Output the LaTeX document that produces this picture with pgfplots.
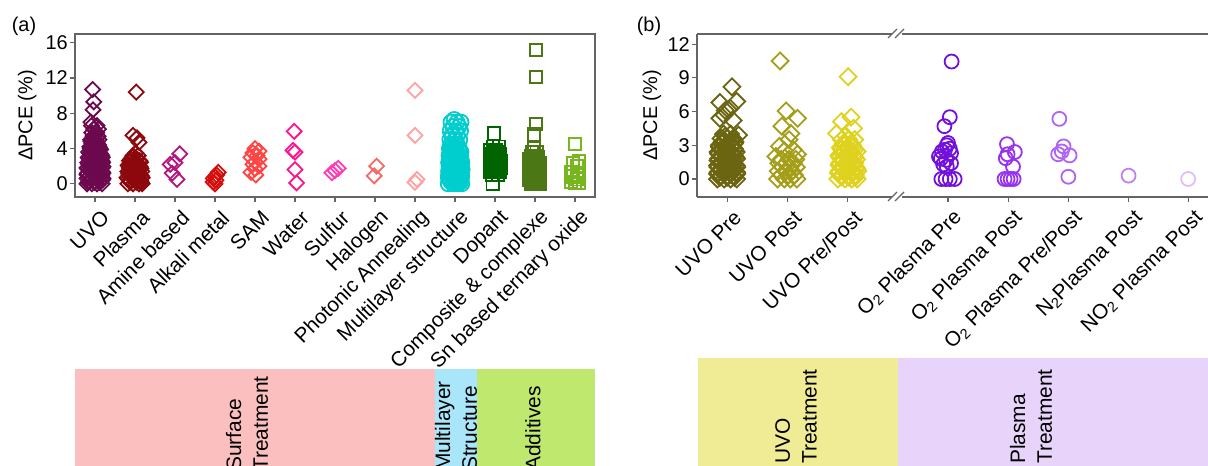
\documentclass[border=0pt]{standalone}
\usepackage{fontspec}
\setmainfont{Liberation Sans}
\usepackage{pgfplots}
\pgfplotsset{compat=1.18}
\definecolor{axgray}{RGB}{100,100,100}
\definecolor{cUVOa}{RGB}{108,8,78}
\definecolor{cPla}{RGB}{140,8,12}
\definecolor{cAmi}{RGB}{180,20,125}
\definecolor{cAlk}{RGB}{212,12,12}
\definecolor{cSAM}{RGB}{255,68,68}
\definecolor{cWat}{RGB}{255,20,140}
\definecolor{cSul}{RGB}{255,60,180}
\definecolor{cHal}{RGB}{245,105,105}
\definecolor{cPho}{RGB}{255,162,162}
\definecolor{cMul}{RGB}{0,205,205}
\definecolor{cDop}{RGB}{0,100,0}
\definecolor{cCom}{RGB}{75,120,20}
\definecolor{cSn}{RGB}{120,182,32}
\definecolor{cUpre}{RGB}{107,100,17}
\definecolor{cUpost}{RGB}{165,158,25}
\definecolor{cUpp}{RGB}{222,210,30}
\definecolor{cOpre}{RGB}{115,15,220}
\definecolor{cOpost}{RGB}{150,50,240}
\definecolor{cOpp}{RGB}{175,100,245}
\definecolor{cN}{RGB}{190,130,245}
\definecolor{cNO}{RGB}{225,190,250}
\definecolor{bxPink}{RGB}{251,191,191}
\definecolor{bxBlue}{RGB}{170,230,250}
\definecolor{bxGreen}{RGB}{190,232,110}
\definecolor{bxYellow}{RGB}{240,236,150}
\definecolor{bxLav}{RGB}{232,212,250}
\newcommand{\tfont}{\fontsize{20}{23}\selectfont}
\newcommand{\xfont}{\fontsize{20.8}{24}\selectfont}
\newcommand{\bfontx}{\fontsize{21}{27}\selectfont}
\pgfplotsset{
  base/.style={
    scale only axis, height=163bp,
    axis line style={axgray, line width=1.1bp},
    every tick/.style={axgray, line width=1.1bp},
    tick align=outside, major tick length=5bp,
    xtick pos=bottom, ytick pos=left,
    /pgf/number format/assume math mode=true,
    tick label style={font=\tfont, black},
    y tick label style={inner sep=2bp},
    x tick label style={font=\xfont, xshift=12bp, yshift=-11bp, rotate=45, anchor=east, inner sep=2bp},
  },
  diaA/.style={only marks, mark=square, mark size=5.3, mark options={rotate=45, line width=1.8bp, solid}},
  diaB/.style={only marks, mark=square, mark size=6, mark options={rotate=45, line width=1.8bp, solid}},
  sq/.style={only marks, mark=square, mark size=6.2, mark options={line width=1.8bp, solid}},
  circA/.style={only marks, mark=o, mark size=7.5, mark options={line width=1.8bp, solid}},
  circB/.style={only marks, mark=o, mark size=7, mark options={line width=1.8bp, solid}},
}
\begin{document}
\begin{tikzpicture}[x=1bp,y=1bp]
\useasboundingbox (0,0) rectangle (1208,466);
% category boxes
\fill[bxPink] (75,-10) rectangle (435,97);
\fill[bxBlue] (435,-10) rectangle (477,97);
\fill[bxGreen] (477,-10) rectangle (595,97);
\fill[bxYellow] (698,-10) rectangle (898,108);
\fill[bxLav] (898,-10) rectangle (1208,108);
\node[rotate=90, anchor=west, align=left, inner sep=0, font=\bfontx] at (247,-5) {Surface\\Treatment};
\node[rotate=90, anchor=west, align=left, inner sep=0, font=\bfontx] at (456,-5) {Multilayer\\Structure};
\node[rotate=90, anchor=west, align=left, inner sep=0, font=\bfontx] at (533,-5) {Additives};
\node[rotate=90, anchor=west, align=left, inner sep=0, font=\bfontx] at (796,2) {UVO\\Treatment};
\node[rotate=90, anchor=west, align=left, inner sep=0, font=\bfontx] at (1031,2) {Plasma\\Treatment};
\node[font=\fontsize{20}{24}\selectfont] at (24,440) {(a)};
\node[font=\fontsize{20}{24}\selectfont] at (649,440) {(b)};
% ---------------- panel (a)
\begin{axis}[base, at={(75bp,269bp)}, anchor=south west, width=520bp,
  xmin=-0.5, xmax=12.5, ymin=-1.5, ymax=17,
  ytick={0,4,8,12,16},
  xtick={0,...,12},
  xticklabels={UVO,Plasma,Amine based,Alkali metal,SAM,Water,Sulfur,Halogen,Photonic Annealing,Multilayer structure,Dopant,Composite \& complexe,Sn based ternary oxide},
  every axis y label/.style={at={(axis description cs:-0.092,0.5)}, rotate=90, anchor=center, font=\tfont},
  ylabel={ΔPCE (\%)},
]
\addplot[diaA, color=cUVOa] coordinates {
(-0.2,0) (-0.08,0) (0.05,0) (0.18,0)
(-0.17,0.15) (-0.02,0.15) (0.12,0.15)
(-0.15,0.3) (0,0.3) (0.14,0.3)
(-0.1,0.45) (0.07,0.45) (0.19,0.45)
(-0.2,0.6) (-0.05,0.6) (0.1,0.6) (0.2,0.6)
(-0.16,0.75) (0.0,0.75) (0.15,0.75)
(-0.12,0.9) (0.03,0.9) (0.17,0.9)
(-0.2,1.05) (-0.04,1.05) (0.11,1.05)
(-0.19,1.2) (-0.06,1.2) (0.08,1.2) (0.2,1.2)
(-0.1,1.35) (0.04,1.35) (0.18,1.35)
(-0.14,1.5) (0,1.5) (0.15,1.5)
(-0.17,1.65) (-0.03,1.65) (0.1,1.65)
(-0.2,1.8) (-0.07,1.8) (0.07,1.8) (0.18,1.8)
(-0.1,1.95) (0.05,1.95) (0.2,1.95)
(-0.13,2.1) (0.02,2.1) (0.16,2.1)
(-0.16,2.25) (-0.02,2.25) (0.13,2.25)
(-0.18,2.4) (-0.05,2.4) (0.1,2.4) (0.19,2.4)
(-0.08,2.55) (0.07,2.55) (0.18,2.55)
(-0.12,2.7) (0.03,2.7) (0.15,2.7)
(-0.15,2.85) (0.0,2.85) (0.12,2.85)
(-0.17,3.0) (-0.04,3.0) (0.09,3.0) (0.18,3.0)
(-0.07,3.15) (0.08,3.15) (0.17,3.15)
(-0.1,3.3) (0.04,3.3) (0.15,3.3)
(-0.13,3.45) (0.01,3.45) (0.13,3.45)
(-0.16,3.6) (-0.03,3.6) (0.1,3.6)
(-0.06,3.75) (0.08,3.75)
(-0.1,3.9) (0.05,3.9) (0.14,3.9)
(-0.12,4.05) (0.03,4.05) (0.12,4.05)
(-0.13,4.2) (0,4.2) (0.1,4.2)
(-0.04,4.4) (0.09,4.4)
(-0.08,4.6) (0.06,4.6)
(-0.1,4.8) (0.04,4.8)
(-0.11,5.0) (0.02,5.0) (0.1,5.0)
(-0.05,5.4) (0.08,5.4)
(-0.08,5.8) (0.04,5.8)
(-0.03,6.2) (0.09,6.2)
(-0.09,6.6) (0.05,6.6)
(-0.1,7.0) (-0.05,8.4) (-0.03,9.3) (-0.06,10.7)
};
\addplot[diaA, color=cPla] coordinates {
(0.82,0) (0.95,0) (1.1,0) (1.18,0)
(0.88,0.18) (1.03,0.18) (1.16,0.18)
(0.86,0.35) (1.0,0.35) (1.14,0.35)
(0.83,0.53) (0.97,0.53) (1.1,0.53)
(0.8,0.7) (0.93,0.7) (1.07,0.7) (1.18,0.7)
(0.89,0.88) (1.04,0.88) (1.16,0.88)
(0.85,1.05) (1.0,1.05) (1.13,1.05)
(0.84,1.23) (0.97,1.23) (1.1,1.23)
(0.82,1.4) (0.95,1.4) (1.08,1.4) (1.17,1.4)
(0.9,1.58) (1.05,1.58)
(0.87,1.75) (1.02,1.75) (1.15,1.75)
(0.85,1.93) (0.99,1.93) (1.13,1.93)
(0.83,2.1) (0.97,2.1) (1.1,2.1)
(0.92,2.28) (1.07,2.28)
(0.88,2.45) (1.03,2.45) (1.14,2.45)
(0.86,2.63) (1.0,2.63) (1.12,2.63)
(0.9,2.8) (1.05,2.8)
(0.93,3.0) (0.95,3.2) (1.08,3.2) (1.02,3.5)
(1.1,4.7) (1.05,5.2) (0.95,5.5) (1.03,10.4)
};
\addplot[diaA, color=cAmi] coordinates {
(2.12,3.4) (2.0,2.4) (1.88,2.2) (1.93,1.2) (2.05,0.5)
};
\addplot[diaA, color=cAlk] coordinates {
(3.08,1.3) (3.04,1.0) (3.0,0.8) (2.96,0.6) (3.02,0.4) (2.95,0.2) (3.0,0.0)
};
\addplot[diaA, color=cSAM] coordinates {
(4.0,4.0) (4.1,3.7) (3.95,3.5) (4.05,3.2) (3.9,3.0) (4.1,2.8) (4.0,2.5)
(3.95,2.2) (4.1,2.0) (4.0,1.7) (3.9,1.3) (4.02,1.0)
};
\addplot[diaA, color=cWat] coordinates {
(4.98,5.95) (4.95,3.8) (5.0,3.6) (5.0,1.6) (5.04,0.1)
};
\addplot[diaA, color=cSul] coordinates {
(5.92,1.25) (6.0,1.5) (6.08,1.75)
};
\addplot[diaA, color=cHal] coordinates {
(7.04,2.0) (6.98,0.9)
};
\addplot[diaA, color=cPho] coordinates {
(8.0,10.6) (8.0,5.5) (8.05,0.5) (8.0,0.15)
};
\addplot[circA, color=cMul] coordinates {
(8.83,0) (8.95,0) (9.07,0) (9.17,0)
(8.9,0.2) (9.03,0.2) (9.14,0.2)
(8.88,0.4) (9.0,0.4) (9.12,0.4)
(8.85,0.6) (8.98,0.6) (9.11,0.6)
(8.83,0.8) (8.95,0.8) (9.08,0.8) (9.17,0.8)
(8.91,1.0) (9.04,1.0) (9.16,1.0)
(8.87,1.2) (9.0,1.2) (9.13,1.2)
(8.84,1.4) (8.96,1.4) (9.08,1.4)
(8.85,1.6) (8.97,1.6) (9.1,1.6) (9.18,1.6)
(8.92,1.8) (9.05,1.8) (9.16,1.8)
(8.88,2.0) (9.02,2.0) (9.14,2.0)
(8.86,2.2) (8.99,2.2) (9.12,2.2)
(8.84,2.4) (8.96,2.4) (9.09,2.4) (9.17,2.4)
(8.92,2.6) (9.05,2.6) (9.16,2.6)
(8.87,2.8) (9.0,2.8) (9.13,2.8)
(8.88,3.0) (9.02,3.0) (9.14,3.0)
(8.85,3.2) (8.98,3.2) (9.1,3.2)
(8.94,3.4) (9.07,3.4)
(8.9,3.6) (9.03,3.6) (9.15,3.6)
(8.88,3.8) (9.0,3.8) (9.12,3.8)
(8.86,4.0) (8.98,4.0) (9.1,4.0)
(8.94,4.25) (9.08,4.25)
(8.9,4.5) (9.05,4.5)
(8.87,5.0) (9.0,5.0) (9.12,5.0)
(8.92,5.5) (9.06,5.5)
(8.88,6.0) (9.02,6.0) (9.14,6.0)
(8.95,6.5) (9.1,6.5)
(8.9,7.0) (9.05,7.0) (9.15,7.0)
(8.98,7.3)
};
\addplot[sq, color=cDop] coordinates {
(9.94,0.0) (9.92,1.0) (10.08,1.0)
(9.88,1.4) (10.0,1.4) (10.12,1.4)
(9.94,1.6) (10.08,1.6)
(9.9,1.8) (10.05,1.8) (10.14,1.8)
(9.92,2.0) (10.07,2.0)
(9.87,2.2) (10.0,2.2) (10.12,2.2)
(9.94,2.4) (10.09,2.4)
(9.9,2.6) (10.04,2.6) (10.14,2.6)
(9.92,2.8) (10.07,2.8)
(9.88,3.0) (10.0,3.0) (10.12,3.0)
(9.95,3.2) (10.09,3.2)
(9.9,3.4) (10.05,3.4) (10.13,3.4)
(9.96,3.6) (10.1,3.6)
(9.88,3.8) (10.02,3.8)
(9.95,4.2) (10.1,4.2)
(9.98,5.7)
};
\addplot[sq, color=cCom] coordinates {
(10.9,0) (11.05,0) (11.12,0)
(10.95,0.2) (11.08,0.2)
(10.85,0.4) (11.0,0.4) (11.12,0.4)
(10.93,0.6) (11.07,0.6)
(10.88,0.8) (11.03,0.8) (11.13,0.8)
(10.92,1.0) (11.06,1.0)
(10.85,1.2) (10.98,1.2) (11.1,1.2)
(10.93,1.4) (11.07,1.4)
(10.87,1.6) (11.02,1.6) (11.12,1.6)
(10.92,1.8) (11.06,1.8)
(10.85,2.0) (11.0,2.0) (11.1,2.0)
(10.93,2.2) (11.07,2.2)
(10.88,2.4) (11.03,2.4) (11.12,2.4)
(10.94,2.6) (11.05,2.6)
(10.86,2.8) (10.98,2.8) (11.08,2.8)
(10.95,3.0) (11.08,3.0)
(10.9,3.2) (11.05,3.2)
(10.92,3.6) (11.04,3.6)
(10.98,4.0)
(10.97,5.6) (11.02,6.8) (11.02,12.1) (11.02,15.2)
};
\addplot[sq, color=cSn] coordinates {
(12.0,4.5) (12.1,2.6) (11.95,2.3) (12.05,2.0) (11.9,1.3) (12.1,1.0)
(11.95,0.8) (12.05,0.5) (11.9,0.2) (12.0,0.05) (12.1,0.1)
};
\end{axis}
% ---------------- panel (b)
\begin{axis}[base, at={(697bp,269bp)}, anchor=south west, width=511bp,
  axis y line*=left,
  xmin=-0.5, xmax=7.99, ymin=-1.6, ymax=12.9,
  ytick={0,3,6,9,12},
  xtick={0,1,2,3.67,4.67,5.67,6.67,7.67},
  xticklabels={UVO Pre,UVO Post,UVO Pre/Post,O\textsubscript{2} Plasma Pre,O\textsubscript{2} Plasma Post,O\textsubscript{2} Plasma Pre/Post,N\textsubscript{2}Plasma Post,NO\textsubscript{2} Plasma Post},
  every axis y label/.style={at={(axis description cs:-0.088,0.5)}, rotate=90, anchor=center, font=\tfont},
  ylabel={ΔPCE (\%)},
]
\addplot[diaB, color=cUpre] coordinates {
(-0.16,0) (-0.05,0) (0.06,0) (0.16,0)
(-0.12,0.15) (0.0,0.15) (0.12,0.15)
(-0.1,0.3) (0.0,0.3) (0.1,0.3)
(-0.16,0.45) (-0.05,0.45) (0.06,0.45) (0.16,0.45)
(-0.15,0.6) (-0.04,0.6) (0.07,0.6) (0.16,0.6)
(-0.11,0.75) (0.01,0.75) (0.12,0.75)
(-0.1,0.9) (0.02,0.9) (0.12,0.9)
(-0.15,1.05) (-0.04,1.05) (0.07,1.05) (0.16,1.05)
(-0.16,1.2) (-0.05,1.2) (0.06,1.2) (0.15,1.2)
(-0.11,1.35) (0.01,1.35) (0.12,1.35)
(-0.1,1.5) (0.0,1.5) (0.11,1.5)
(-0.15,1.65) (-0.04,1.65) (0.07,1.65)
(-0.14,1.8) (-0.03,1.8) (0.08,1.8) (0.16,1.8)
(-0.1,1.95) (0.02,1.95) (0.14,1.95)
(-0.1,2.1) (0.02,2.1) (0.12,2.1)
(-0.14,2.25) (-0.03,2.25) (0.08,2.25)
(-0.15,2.4) (-0.04,2.4) (0.07,2.4) (0.15,2.4)
(-0.1,2.55) (0.02,2.55) (0.13,2.55)
(-0.09,2.7) (0.02,2.7) (0.12,2.7)
(-0.13,2.85) (-0.02,2.85) (0.09,2.85)
(-0.13,3.0) (-0.02,3.0) (0.08,3.0)
(-0.09,3.15) (0.03,3.15) (0.12,3.15)
(-0.08,3.3) (0.04,3.3) (0.13,3.3)
(-0.05,3.45) (0.07,3.45)
(-0.1,3.6) (0.0,3.6) (0.1,3.6)
(-0.03,3.8) (-0.06,4.0) (0.06,4.0)
(0.19,3.9) (-0.12,5.4) (0.1,5.2) (-0.05,5.7) (-0.03,6.1) (0.05,6.3)
(-0.12,6.8) (0.16,6.9) (0.08,8.2)
};
\addplot[diaB, color=cUpost] coordinates {
(0.84,0) (0.95,0) (1.05,0) (1.16,0)
(0.9,0.35) (1.02,0.35) (1.12,0.35)
(0.85,0.7) (0.97,0.7) (1.08,0.7)
(0.92,1.05) (1.04,1.05) (1.15,1.05)
(0.86,1.4) (0.98,1.4) (1.1,1.4)
(0.9,1.75) (1.03,1.75) (1.14,1.75)
(0.81,2.0) (1.17,2.2) (0.95,2.5) (1.1,2.6) (0.87,2.9) (1.03,3.5)
(1.06,4.05) (0.91,4.7) (1.17,5.4) (0.98,6.05) (0.88,10.5)
};
\addplot[diaB, color=cUpp] coordinates {
(1.84,0) (1.96,0) (2.07,0) (2.16,0)
(1.9,0.18) (2.02,0.18) (2.13,0.18)
(1.9,0.35) (2.02,0.35) (2.13,0.35)
(1.85,0.53) (1.97,0.53) (2.09,0.53)
(1.86,0.7) (1.98,0.7) (2.1,0.7) (2.17,0.7)
(1.92,0.88) (2.04,0.88) (2.16,0.88)
(1.9,1.05) (2.03,1.05) (2.14,1.05)
(1.86,1.23) (1.98,1.23) (2.1,1.23)
(1.87,1.4) (2.0,1.4) (2.12,1.4)
(1.92,1.58) (2.05,1.58)
(1.9,1.75) (2.04,1.75) (2.15,1.75)
(1.87,1.93) (2.0,1.93) (2.12,1.93)
(1.86,2.1) (1.98,2.1) (2.1,2.1)
(1.93,2.28) (2.06,2.28)
(1.92,2.45) (2.05,2.45) (2.16,2.45)
(1.9,2.63) (2.02,2.63) (2.13,2.63)
(1.88,2.8) (2.0,2.8) (2.1,2.8)
(1.95,3.0) (2.08,3.0)
(1.93,3.15) (2.06,3.15)
(1.9,3.5) (2.02,3.5) (2.12,3.5) (1.97,3.85)
(1.82,4.05) (2.1,4.5) (1.9,5.1) (2.06,5.5) (2.01,9.1)
};
\addplot[circB, color=cOpre] coordinates {
(3.73,10.45) (3.70,5.5) (3.61,4.7)
(3.67,3.2) (3.65,3.0) (3.62,2.6) (3.70,2.7) (3.57,2.45) (3.72,2.3)
(3.52,2.0) (3.55,1.8) (3.64,1.7) (3.72,1.4) (3.59,1.3) (3.65,1.1)
(3.56,0) (3.63,0) (3.70,0) (3.78,0)
};
\addplot[circB, color=cOpost] coordinates {
(4.65,3.1) (4.78,2.4) (4.66,2.2) (4.63,1.85) (4.75,1.1)
(4.61,0) (4.66,0) (4.71,0) (4.76,0)
};
\addplot[circB, color=cOpp] coordinates {
(5.52,5.35) (5.59,2.9) (5.56,2.45) (5.50,2.2) (5.69,2.1) (5.67,0.2)
};
\addplot[circB, color=cN] coordinates {(6.67,0.3)};
\addplot[circB, color=cNO] coordinates {(7.66,0)};
\end{axis}
% axis break marks
\fill[white] (892,426) rectangle (902,438);
\fill[white] (892,263) rectangle (902,275);
\draw[axgray, line width=1.1bp] (888,428)--(897,437) (895,428)--(904,437);
\draw[axgray, line width=1.1bp] (888,265)--(897,274) (895,265)--(904,274);
\end{tikzpicture}
\end{document}
